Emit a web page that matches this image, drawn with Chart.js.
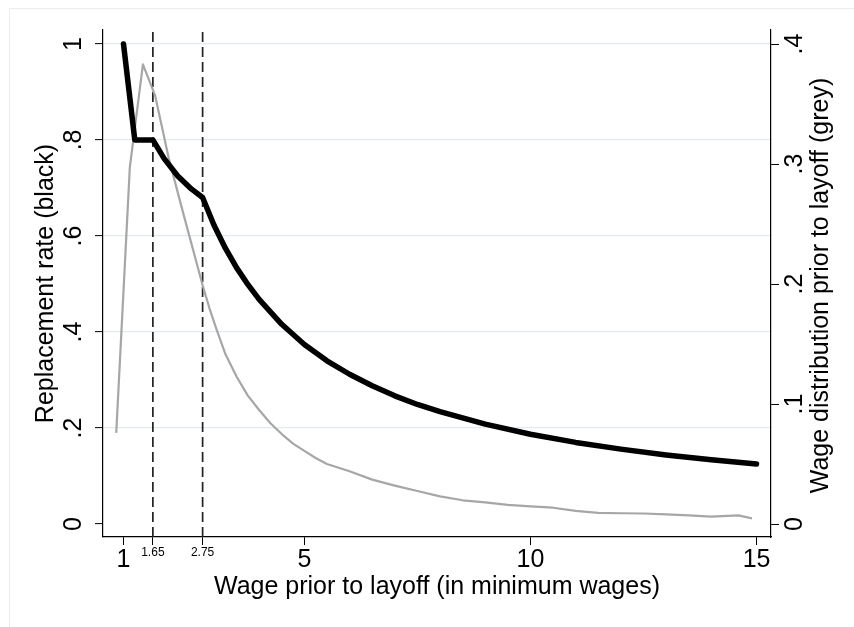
<!DOCTYPE html>
<html>
<head>
<meta charset="utf-8">
<script src="https://cdn.jsdelivr.net/npm/chart.js@4/dist/chart.umd.min.js"></script>
<style>
  html, body { margin: 0; padding: 0; background: #ffffff; overflow: hidden; }
  #wrap { position: relative; width: 854px; height: 627px; }
  #frame { position: absolute; left: 9px; top: 8px; width: 1000px; height: 1000px;
           border: 1px solid #e8eef1; box-sizing: border-box; }
  #chart { position: absolute; left: 0; top: 0; }
</style>
</head>
<body>
<div id="wrap">
  <div id="frame"></div>
  <canvas id="chart" width="854" height="627"></canvas>
</div>
<script>
// Replacement rate schedule (benefit / prior wage), by prior wage in minimum wages
const wageLevels = [1, 1.25, 1.65, 1.9, 2.2, 2.5, 2.75, 3, 3.25, 3.5, 3.75, 4, 4.5, 5, 5.5, 6, 6.5, 7, 7.5, 8, 9, 10, 11, 12, 13, 14, 15];
const replacementRate = [1.0, 0.8, 0.8, 0.761, 0.725, 0.698, 0.68, 0.623, 0.575, 0.534, 0.499, 0.468, 0.416, 0.374, 0.34, 0.312, 0.288, 0.267, 0.249, 0.234, 0.208, 0.187, 0.17, 0.156, 0.144, 0.134, 0.125];

// Distribution of wages prior to layoff
const wageBins = [0.84, 1.14, 1.43, 1.7, 2.0, 2.3, 2.6, 2.75, 2.9, 3.05, 3.25, 3.5, 3.75, 4.0, 4.25, 4.5, 4.75, 5.0, 5.25, 5.5, 6.0, 6.5, 7.0, 7.5, 8.0, 8.5, 9.0, 9.5, 10.0, 10.5, 11.0, 11.5, 12.0, 12.5, 13.0, 13.5, 14.0, 14.6, 14.9];
const wageShare = [0.076, 0.297, 0.383, 0.357, 0.305, 0.262, 0.22, 0.199, 0.18, 0.163, 0.142, 0.123, 0.107, 0.095, 0.084, 0.075, 0.067, 0.061, 0.055, 0.05, 0.044, 0.037, 0.032, 0.0275, 0.023, 0.0198, 0.018, 0.016, 0.0148, 0.0136, 0.011, 0.0093, 0.009, 0.0088, 0.008, 0.0072, 0.0062, 0.0072, 0.0047];

// Benefit schedule thresholds
const cutoffs = [1.65, 2.75];

// Axis ticks
const xTickValues = [1, 1.65, 2.75, 5, 10, 15];
const xTickLabels = ['1', '1.65', '2.75', '5', '10', '15'];
const leftTickValues = [0, 0.2, 0.4, 0.6, 0.8, 1];
const leftTickLabels = ['0', '.2', '.4', '.6', '.8', '1'];
const rightTickValues = [0, 0.1, 0.2, 0.3, 0.4];
const rightTickLabels = ['0', '.1', '.2', '.3', '.4'];

const X_MIN = 0.547, X_MAX = 15.32;
const Y_MIN = -0.027, Y_MAX = 1.029;
const Y2_MIN = -0.0108, Y2_MAX = 0.4117;

const FONT = "'Liberation Sans', Arial, Helvetica, sans-serif";
const TEXT_SIZE = 25;

const toPoints = (xs, ys) => xs.map((x, i) => ({ x: x, y: ys[i] }));

const datasets = [
  {
    label: 'Replacement rate',
    data: toPoints(wageLevels, replacementRate),
    yAxisID: 'y',
    borderColor: '#000000',
    borderWidth: 5.5,
    borderCapStyle: 'round',
    borderJoinStyle: 'round',
    pointRadius: 0,
    tension: 0,
    order: 0
  },
  {
    label: 'Wage distribution',
    data: toPoints(wageBins, wageShare),
    yAxisID: 'y2',
    borderColor: '#a6a6a6',
    borderWidth: 2.2,
    borderJoinStyle: 'round',
    pointRadius: 0,
    tension: 0,
    order: 1
  }
];
cutoffs.forEach(c => {
  datasets.push({
    label: 'cutoff ' + c,
    data: [{ x: c, y: Y_MIN }, { x: c, y: Y_MAX }],
    yAxisID: 'y',
    borderColor: '#222222',
    borderWidth: 1.7,
    borderDash: [10, 5],
    pointRadius: 0,
    order: 2
  });
});

const setTicks = (values) => (scale) => { scale.ticks = values.map(v => ({ value: v })); };
const labelFrom = (values, labels) => (v) => {
  const i = values.findIndex(t => Math.abs(t - v) < 1e-9);
  return i >= 0 ? labels[i] : '';
};

// Right-hand axis title reads bottom-to-top
const rightTitle = {
  id: 'rightTitle',
  afterDraw(chart) {
    const s = chart.scales.y2;
    const ctx = chart.ctx;
    ctx.save();
    ctx.translate(s.left + 50, (s.top + s.bottom) / 2 + 2);
    ctx.rotate(-Math.PI / 2);
    ctx.font = TEXT_SIZE + 'px ' + FONT;
    ctx.fillStyle = '#000000';
    ctx.textAlign = 'center';
    ctx.textBaseline = 'middle';
    ctx.fillText('Wage distribution prior to layoff (grey)', 0, 0);
    ctx.restore();
  }
};

new Chart(document.getElementById('chart'), {
  type: 'line',
  data: { datasets: datasets },
  plugins: [rightTitle],
  options: {
    responsive: false,
    animation: false,
    devicePixelRatio: 1,
    layout: { padding: { left: 0, right: 0, top: 30, bottom: 0 } },
    plugins: { legend: { display: false }, tooltip: { enabled: false } },
    scales: {
      x: {
        type: 'linear',
        position: 'bottom',
        min: X_MIN,
        max: X_MAX,
        afterBuildTicks: setTicks(xTickValues),
        afterFit: (s) => { s.height = 90; },
        grid: { drawOnChartArea: false, tickLength: 8, tickColor: '#000000', tickWidth: 1 },
        border: { display: true, color: '#000000', width: 1.2 },
        ticks: {
          autoSkip: false,
          maxRotation: 0,
          padding: 0,
          color: '#000000',
          callback: labelFrom(xTickValues, xTickLabels),
          font: (ctx) => {
            const v = ctx.tick ? ctx.tick.value : 0;
            const small = cutoffs.some(c => Math.abs(c - v) < 1e-9);
            return { family: FONT, size: small ? 12 : TEXT_SIZE };
          }
        },
        title: {
          display: true,
          text: 'Wage prior to layoff (in minimum wages)',
          color: '#000000',
          font: { family: FONT, size: TEXT_SIZE },
          padding: { top: 0, bottom: 25 }
        }
      },
      y: {
        type: 'linear',
        position: 'left',
        min: Y_MIN,
        max: Y_MAX,
        afterBuildTicks: setTicks(leftTickValues),
        afterFit: (s) => { s.width = 103; },
        grid: {
          drawOnChartArea: true,
          color: (ctx) => (ctx.tick && ctx.tick.value === 0) ? 'rgba(0,0,0,0)' : '#e2ecef',
          lineWidth: 1.2,
          tickLength: 8,
          tickColor: '#000000',
          tickWidth: 1
        },
        border: { display: true, color: '#000000', width: 1.2 },
        ticks: {
          autoSkip: false,
          minRotation: 90,
          maxRotation: 90,
          crossAlign: 'center',
          padding: 10,
          color: '#000000',
          font: { family: FONT, size: TEXT_SIZE },
          callback: labelFrom(leftTickValues, leftTickLabels)
        },
        title: {
          display: true,
          text: 'Replacement rate (black)',
          color: '#000000',
          font: { family: FONT, size: TEXT_SIZE },
          padding: { top: 31, bottom: 0 }
        }
      },
      y2: {
        type: 'linear',
        position: 'right',
        min: Y2_MIN,
        max: Y2_MAX,
        afterBuildTicks: setTicks(rightTickValues),
        afterFit: (s) => { s.width = 83; },
        grid: { drawOnChartArea: false, tickLength: 8, tickColor: '#000000', tickWidth: 1 },
        border: { display: true, color: '#000000', width: 1.2 },
        ticks: {
          autoSkip: false,
          minRotation: 90,
          maxRotation: 90,
          crossAlign: 'center',
          padding: 6,
          color: '#000000',
          font: { family: FONT, size: TEXT_SIZE },
          callback: labelFrom(rightTickValues, rightTickLabels)
        }
      }
    }
  }
});
</script>
</body>
</html>
